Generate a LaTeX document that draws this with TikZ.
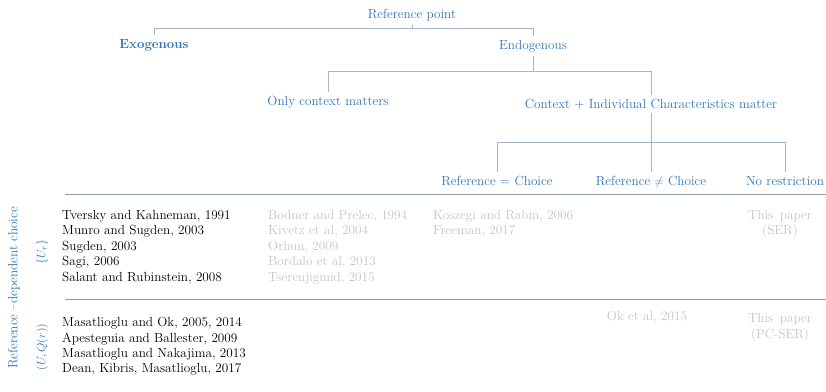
\documentclass[tikz,border=0pt]{standalone}
\usepackage{xcolor}
\usepackage{tikz}
\usetikzlibrary{positioning,calc}

\definecolor{headblue}{RGB}{46,117,182}
\definecolor{branchgrey}{RGB}{165,182,200}
\definecolor{rulegrey}{RGB}{140,157,176}
\definecolor{fadegrey}{RGB}{196,196,196}

\begin{document}
\begin{tikzpicture}[
    x=1pt, y=-1pt,
    every node/.style={font=\fontsize{13.2}{15.4}\selectfont},
    head/.style={text=headblue, anchor=base, inner sep=4pt},
    lit/.style={text=black, anchor=base west, inner sep=0pt},
    faded/.style={text=fadegrey, anchor=base west, inner sep=0pt},
    branch/.style={draw=branchgrey, line width=0.9pt},
    rule/.style={draw=rulegrey, line width=0.9pt}
]
\useasboundingbox (0,0) rectangle (826,391);

% Tree of reference point types
\node[head] (ref) at (412,18) {Reference point};
\node[head, font=\fontsize{13.2}{15.4}\selectfont\bfseries] (exo) at (154,48) {Exogenous};
\node[head] (endo) at (533,49) {Endogenous};
\node[head] (ctx) at (328,105) {Only context matters};
\node[head] (ind) at (651,108) {Context + Individual Characteristics matter};
\node[head] (eq) at (497,185) {Reference = Choice};
\node[head] (neq) at (651,185) {Reference $\neq$ Choice};
\node[head] (nores) at (785,185) {No restriction};

% Branches
\coordinate (bar1) at ($(exo.north)+(0,-6)$);
\draw[branch] (exo.north) |- (bar1) -| (endo.north);
\draw[branch] (ref.south) -- (ref.south |- bar1);
\draw[branch] (endo.south) -- ++(0,16) coordinate (bar2);
\draw[branch] (ctx.north) |- (bar2) -| (ind.north);
\coordinate (bar3) at ($(ind.south)!0.5!(neq.north)$);
\draw[branch] (ind.south) -- (neq.north);
\draw[branch] (eq.north) |- (bar3) -| (nores.north);

% Table rules
\draw[rule] (65,194) coordinate (rule1) -- (826,194);
\draw[rule] (65,299) coordinate (rule2) -- (826,299);

% Row labels
\node[head, anchor=center, rotate=90] (rdc) at (14,288) {Reference --dependent choice};
\node[head, anchor=center, rotate=90] (ur) at (42,252) {$\{U_r\}$};
\node[head, anchor=center, rotate=90] (uq) at (42,347) {$(U,Q(r))$};

% First row
\foreach \txt [count=\i] in {{Tversky and Kahneman, 1991}, {Munro and Sugden, 2003},
    {Sugden, 2003}, {Sagi, 2006}, {Salant and Rubinstein,\ 2008}}
  \node[lit] (exo-\i) at (62, 203.5+15.5*\i) {\txt};
\foreach \txt [count=\i] in {{Bodner and Prelec, 1994}, {Kivetz et al, 2004},
    {Orhun, 2009}, {Bordalo et al, 2013}, {Tserenjigmid, 2015}}
  \node[faded] (ctx-\i) at (268, 203.5+15.5*\i) {\txt};
\foreach \txt [count=\i] in {{Koszegi and Rabin, 2006}, {Freeman, 2017}}
  \node[faded] (eq-\i) at (433, 203.5+15.5*\i) {\txt};
\node[faded, anchor=base] (ser-a) at (780,219) {This\enspace paper};
\node[faded, anchor=base] (ser-b) at (780,234.5) {(SER)};

% Second row
\foreach \txt [count=\i] in {{Masatlioglu and Ok, 2005, 2014}, {Apesteguia and Ballester, 2009},
    {Masatlioglu and Nakajima, 2013}, {Dean, Kibris, Masatlioglu, 2017}}
  \node[lit] (exo2-\i) at (62, 311.5+15.3*\i) {\txt};
\node[faded, anchor=base] (neq-1) at (647,320) {Ok et al, 2015};
\node[faded, anchor=base] (pcser-a) at (780,322) {This\enspace paper};
\node[faded, anchor=base] (pcser-b) at (780,338) {(PC-SER)};

\end{tikzpicture}
\end{document}
